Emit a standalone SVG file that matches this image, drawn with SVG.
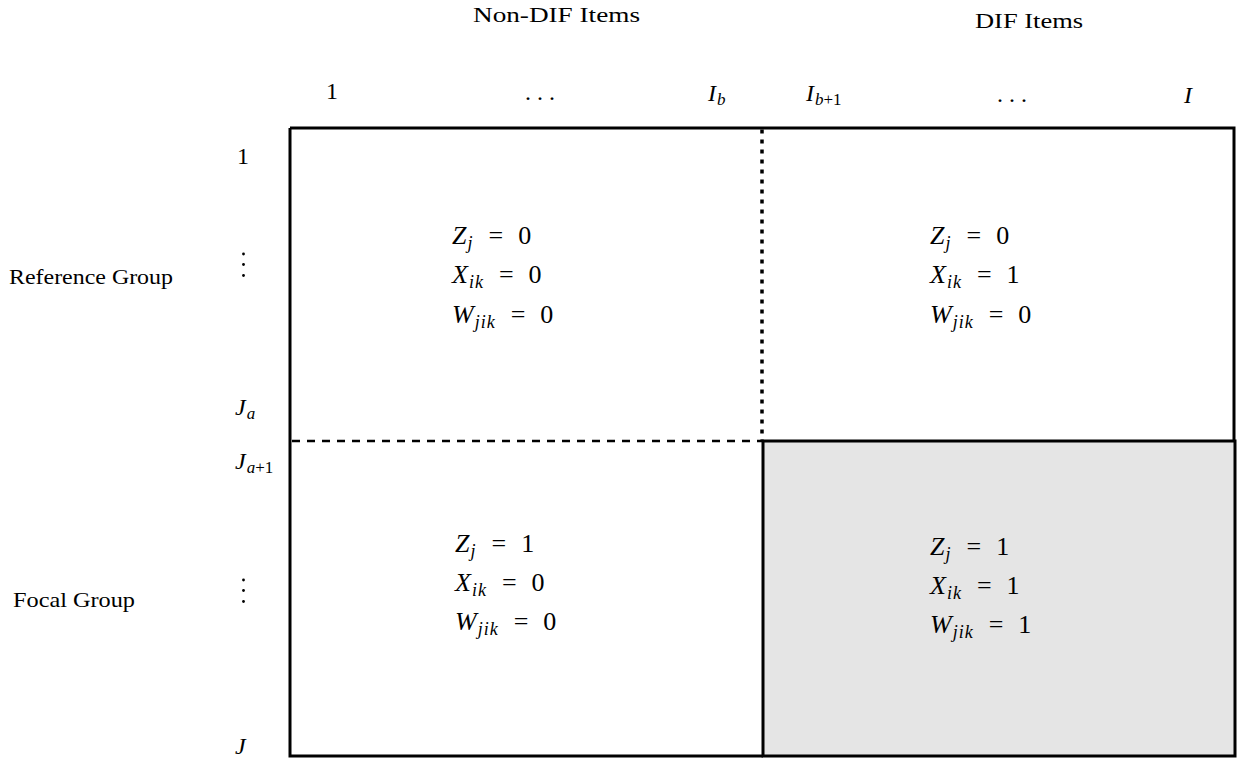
<svg xmlns="http://www.w3.org/2000/svg" width="1239" height="759" viewBox="0 0 1239 759">
<style>
text{font-family:"Liberation Serif","DejaVu Serif",serif;fill:#000}
.lbl{font-size:21px}
.m{font-size:24px}
.c{font-size:26px}
.v{font-style:italic}
.s{font-size:17px;font-style:italic}
.cs{font-size:18px;font-style:italic;letter-spacing:1px}
.sr{font-size:17px}
.frame{fill:none;stroke:#000;stroke-width:3}
</style>
<rect width="1239" height="759" fill="#fff"/>
<g id="headers">
<text class="lbl" x="473" y="22" textLength="167" lengthAdjust="spacingAndGlyphs">Non-DIF Items</text>
<text class="lbl" x="975" y="28" textLength="108" lengthAdjust="spacingAndGlyphs">DIF Items</text>
<text class="m" x="326" y="99">1</text>
<text class="m" x="525" y="100">. . .</text>
<text class="m" x="708" y="101"><tspan class="v">I</tspan><tspan class="s" dy="4" dx="1">b</tspan></text>
<text class="m" x="806" y="101"><tspan class="v">I</tspan><tspan class="s" dy="4" dx="1">b</tspan><tspan class="sr">+1</tspan></text>
<text class="m" x="997" y="102">. . .</text>
<text class="m v" x="1184" y="103">I</text>
</g>
<g id="row-labels">
<text class="lbl" x="9" y="284" textLength="164" lengthAdjust="spacingAndGlyphs">Reference Group</text>
<text class="lbl" x="13" y="607" textLength="122" lengthAdjust="spacingAndGlyphs">Focal Group</text>
<text class="m" x="237" y="164">1</text>
<circle cx="243.5" cy="254" r="1.4"/><circle cx="243.5" cy="264.5" r="1.4"/><circle cx="243.5" cy="275.5" r="1.4"/>
<text class="m" x="235" y="415"><tspan class="v">J</tspan><tspan class="s" dy="4" dx="1">a</tspan></text>
<text class="m" x="235" y="469"><tspan class="v">J</tspan><tspan class="s" dy="4" dx="1">a</tspan><tspan class="sr">+1</tspan></text>
<circle cx="243.5" cy="580" r="1.4"/><circle cx="243.5" cy="590.5" r="1.4"/><circle cx="243.5" cy="601.5" r="1.4"/>
<text class="m v" x="235" y="754">J</text>
</g>
<g id="cell-ref-nondif">
<text class="c" x="452" y="244"><tspan class="v">Z</tspan><tspan class="cs" dy="5" dx="1">j</tspan><tspan dy="-5" dx="15">=</tspan><tspan dx="15">0</tspan></text>
<text class="c" x="452" y="283"><tspan class="v">X</tspan><tspan class="cs" dy="5" dx="1">ik</tspan><tspan dy="-5" dx="15">=</tspan><tspan dx="15">0</tspan></text>
<text class="c" x="452" y="323"><tspan class="v">W</tspan><tspan class="cs" dy="5" dx="1">jik</tspan><tspan dy="-5" dx="15">=</tspan><tspan dx="15">0</tspan></text>
</g>
<g id="cell-ref-dif">
<text class="c" x="930" y="244"><tspan class="v">Z</tspan><tspan class="cs" dy="5" dx="1">j</tspan><tspan dy="-5" dx="15">=</tspan><tspan dx="15">0</tspan></text>
<text class="c" x="930" y="283"><tspan class="v">X</tspan><tspan class="cs" dy="5" dx="1">ik</tspan><tspan dy="-5" dx="15">=</tspan><tspan dx="15">1</tspan></text>
<text class="c" x="930" y="323"><tspan class="v">W</tspan><tspan class="cs" dy="5" dx="1">jik</tspan><tspan dy="-5" dx="15">=</tspan><tspan dx="15">0</tspan></text>
</g>
<g id="cell-focal-dif-bg">
<rect x="763" y="441" width="472" height="315" fill="#e5e5e5" stroke="#000" stroke-width="3"/>
</g>
<g id="frame">
<path class="frame" d="M290,128 H1234 V441"/>
<path class="frame" d="M290,128 V756 H763"/>
</g>
<g id="connectors">
<path d="M762,129.5 V440" fill="none" stroke="#000" stroke-width="3.5" stroke-dasharray="4 6"/>
<path d="M292,441 H762" fill="none" stroke="#000" stroke-width="2.5" stroke-dasharray="8 7"/>
</g>
<g id="cell-focal-nondif">
<text class="c" x="455" y="552"><tspan class="v">Z</tspan><tspan class="cs" dy="5" dx="1">j</tspan><tspan dy="-5" dx="15">=</tspan><tspan dx="15">1</tspan></text>
<text class="c" x="455" y="591"><tspan class="v">X</tspan><tspan class="cs" dy="5" dx="1">ik</tspan><tspan dy="-5" dx="15">=</tspan><tspan dx="15">0</tspan></text>
<text class="c" x="455" y="630"><tspan class="v">W</tspan><tspan class="cs" dy="5" dx="1">jik</tspan><tspan dy="-5" dx="15">=</tspan><tspan dx="15">0</tspan></text>
</g>
<g id="cell-focal-dif">
<text class="c" x="930" y="555"><tspan class="v">Z</tspan><tspan class="cs" dy="5" dx="1">j</tspan><tspan dy="-5" dx="15">=</tspan><tspan dx="15">1</tspan></text>
<text class="c" x="930" y="594"><tspan class="v">X</tspan><tspan class="cs" dy="5" dx="1">ik</tspan><tspan dy="-5" dx="15">=</tspan><tspan dx="15">1</tspan></text>
<text class="c" x="930" y="633"><tspan class="v">W</tspan><tspan class="cs" dy="5" dx="1">jik</tspan><tspan dy="-5" dx="15">=</tspan><tspan dx="15">1</tspan></text>
</g>
</svg>
